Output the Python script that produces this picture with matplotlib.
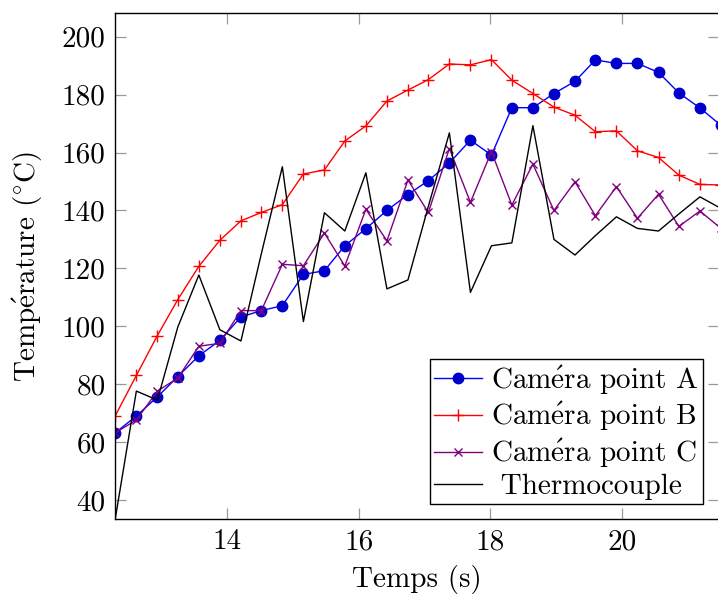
import matplotlib.pyplot as plt

plt.rcParams['font.family'] = ['cmr10', 'DejaVu Serif']
plt.rcParams['mathtext.fontset'] = 'cm'
plt.rcParams['axes.unicode_minus'] = False

# Temps (s)
temps = [12.30, 12.62, 12.94, 13.25, 13.57, 13.89, 14.21, 14.52, 14.84, 15.16,
         15.48, 15.79, 16.11, 16.43, 16.75, 17.06, 17.38, 17.70, 18.02, 18.33,
         18.65, 18.97, 19.29, 19.60, 19.92, 20.24, 20.56, 20.87, 21.19, 21.51]

cam_a = [63.2, 69.0, 75.6, 82.6, 89.8, 95.1, 103.2, 105.4, 107.1, 117.9,
         119.2, 127.8, 133.7, 140.0, 145.5, 150.3, 156.4, 164.3, 159.1, 175.5,
         175.5, 180.4, 184.6, 192.0, 190.8, 190.8, 187.7, 180.6, 175.4, 169.4]

cam_b = [69.1, 83.0, 96.8, 109.2, 120.7, 129.7, 136.4, 139.3, 142.0, 152.6,
         154.0, 164.0, 169.2, 177.8, 181.6, 185.2, 190.6, 190.3, 192.1, 185.0,
         180.4, 175.7, 172.9, 167.2, 167.5, 160.6, 158.3, 152.2, 149.0, 148.8]

cam_c = [63.2, 67.6, 77.6, 82.1, 93.1, 94.1, 105.4, 105.4, 121.4, 120.9,
         132.2, 120.8, 140.4, 129.5, 150.5, 139.3, 161.4, 142.8, 160.3, 141.9,
         156.0, 140.0, 149.9, 138.2, 148.2, 137.3, 145.6, 134.5, 139.8, 133.8]

thermo = [33.6, 77.6, 74.5, 99.7, 117.7, 98.8, 94.9, 125.0, 155.1, 101.6,
          139.2, 132.9, 153.0, 112.9, 116.0, 141.4, 166.8, 111.7, 127.8, 128.8,
          169.3, 130.0, 124.6, 131.3, 137.8, 133.8, 132.9, 138.8, 144.7, 140.7]

# accents drawn with mathtext so everything stays in Computer Modern
labels = [r'Cam$\acute{\rm e}$ra point A',
          r'Cam$\acute{\rm e}$ra point B',
          r'Cam$\acute{\rm e}$ra point C',
          r' Thermocouple']

fs = 21

fig = plt.figure(figsize=(7.18, 5.95), dpi=100)
ax = fig.add_axes([0.1606, 0.1272, 0.8408, 0.8504])

ax.plot(temps, cam_a, color='blue', lw=1.0, marker='o', ms=7.5,
        mfc='#0000cc', mec='#0000cc', label=labels[0])
ax.plot(temps, cam_b, color='red', lw=1.0, marker='+', ms=9, mew=1.0,
        label=labels[1])
ax.plot(temps, cam_c, color='#800080', lw=1.0, marker='x', ms=6, mew=1.0,
        label=labels[2])
ax.plot(temps, thermo, color='black', lw=1.0, label=labels[3])

ax.set_xlim(12.3, 21.48)
ax.set_ylim(33.3, 208.1)
ax.set_xticks([14, 16, 18, 20])
ax.set_yticks(range(40, 201, 20))

ax.tick_params(direction='in', length=8, width=0.9, color='#999999',
               top=True, right=True, labelsize=fs, pad=7)
for s in ax.spines.values():
    s.set_linewidth(1.0)

ax.set_xlabel('Temps (s)', fontsize=fs, labelpad=7)
ax.set_ylabel(r'Temp$\acute{\rm e}$rature ($^{\circ}$C)', fontsize=fs,
              labelpad=12)

leg = ax.legend(loc='lower right', bbox_to_anchor=(0.9735, 0.03),
                fontsize=fs, frameon=True, fancybox=False,
                edgecolor='black', framealpha=1, handlelength=1.65,
                borderpad=0.15, labelspacing=0.12, handletextpad=0.3,
                borderaxespad=0)
leg.get_frame().set_linewidth(1.0)

fig.savefig('out.png', dpi=100)
